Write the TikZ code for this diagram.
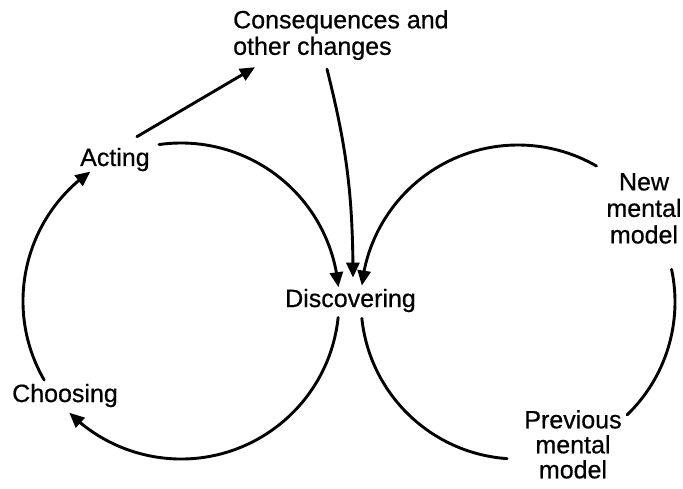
\documentclass[tikz,border=0pt]{standalone}
\usepackage{fontspec}
\setmainfont{Liberation Sans}
\newfontfamily\lblfont{Liberation Sans}[FakeBold=0.6]
\usetikzlibrary{arrows.meta,bending}
\begin{document}
\begin{tikzpicture}[x=1pt,y=1pt,
  lbl/.style={inner sep=0pt, font=\lblfont\fontsize{25}{26.5}\selectfont},
  conn/.style={line width=2.9pt, line cap=round},
  arr/.style={conn, -{Triangle[length=15pt,width=13pt]}}]
\useasboundingbox (0,0) rectangle (683,488);
% centres of the two loops
\coordinate (L) at (181,187);
\coordinate (R) at (518,186);
% labels
\node[lbl, anchor=north west, align=left] (cons) at (233,478) {Consequences and\\other changes};
\node[lbl, anchor=base west] (acting) at (80,322) {Acting};
\node[lbl, anchor=base west] (choosing) at (12,86) {Choosing};
\node[lbl, anchor=base west] (disc) at (285,181) {Discovering};
\node[lbl, anchor=north, align=center] (newmm) at (644,315) {New\\mental\\model};
\node[lbl, anchor=north, align=center, font=\lblfont\fontsize{25}{25}\selectfont] (prevmm) at (573,78) {Previous\\mental\\model};
% straight connectors
\draw[arr] ([shift={(-13,11)}]acting.north east) -- ([shift={(22,-7)}]cons.south west);
\draw[arr] ([shift={(94,-9)}]cons.south west) to[bend left=7] ([shift={(68,11)}]disc.north west);
% left loop
\draw[arr] ([shift={(L)}]98:158) arc[start angle=98,end angle=5,radius=158pt];
\draw[arr] ([shift={(L)}]-6:158) arc[start angle=-6,end angle=-135,radius=158pt];
\draw[arr] ([shift={(L)}]210:158) arc[start angle=210,end angle=125,radius=158pt];
% right loop
\draw[arr] ([shift={(R)}]60:157) arc[start angle=60,end angle=174,radius=157pt];
\draw[conn] ([shift={(R)}]12:157) arc[start angle=12,end angle=-46,radius=157pt];
\draw[conn] ([shift={(R)}]186:157) arc[start angle=186,end angle=266,radius=157pt];
\end{tikzpicture}
\end{document}
